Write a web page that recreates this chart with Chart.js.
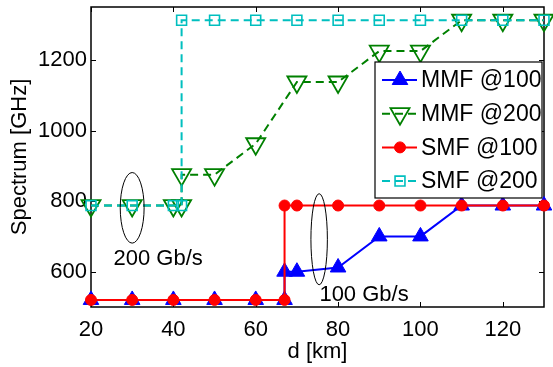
<!DOCTYPE html>
<html>
<head>
<meta charset="utf-8">
<script src="https://cdn.jsdelivr.net/npm/chart.js@4.4.1/dist/chart.umd.min.js"></script>
<style>
    html, body { margin: 0; padding: 0; background: #fff; }
    #wrap { width: 553px; height: 367px; }
</style>
</head>
<body>
<div id="wrap"><canvas id="chart" width="553" height="367"></canvas></div>
<script>
// distances [km] and spectrum [GHz]
const mmf100X = [20, 30, 40, 50, 60, 67, 67, 70, 80, 90, 100, 110, 120, 130];
const mmf100Y = [520, 520, 520, 520, 520, 520, 600, 600, 612, 700, 700, 787.5, 787.5, 787.5];

const mmf200X = [20, 30, 40, 42, 42, 50, 60, 70, 80, 90, 100, 110, 120, 130];
const mmf200Y = [787.5, 787.5, 787.5, 787.5, 875, 875, 962.5, 1137.5, 1137.5, 1225, 1225, 1312.5, 1312.5, 1312.5];

const smf100X = [20, 30, 40, 50, 60, 67, 67, 70, 80, 90, 100, 110, 120, 130];
const smf100Y = [520, 520, 520, 520, 520, 520, 787.5, 787.5, 787.5, 787.5, 787.5, 787.5, 787.5, 787.5];

const smf200X = [20, 30, 40, 42, 42, 50, 60, 70, 80, 90, 100, 110, 120, 130];
const smf200Y = [787.5, 787.5, 787.5, 787.5, 1312.5, 1312.5, 1312.5, 1312.5, 1312.5, 1312.5, 1312.5, 1312.5, 1312.5, 1312.5];

const seriesNames = ["MMF @100", "MMF @200", "SMF @100", "SMF @200"];

// callouts: [center x, center y, half width (km), half height (GHz)]
const ellipse200 = [30, 781, 2.9, 100];
const ellipse100 = [75.4, 692, 2.0, 129];
const label200 = ["200 Gb/s", 36.3, 637];
const label100 = ["100 Gb/s", 86.3, 535];

const FONT = "'Liberation Sans', Arial, Helvetica, sans-serif";

const toPoints = (xs, ys) => xs.map((x, i) => ({x, y: ys[i]}));

const datasets = [
    {
        label: seriesNames[0],
        data: toPoints(mmf100X, mmf100Y),
        borderColor: "#0000ff",
        backgroundColor: "#0000ff",
        borderWidth: 2,
        pointStyle: "triangle",
        pointRadius: 9,
        pointBorderWidth: 1,
        order: 4
    },
    {
        label: seriesNames[1],
        data: toPoints(mmf200X, mmf200Y),
        borderColor: "#008000",
        backgroundColor: "rgba(0,0,0,0)",
        borderWidth: 2,
        borderDash: [8, 5],
        pointStyle: "triangle",
        pointRotation: 180,
        pointRadius: 11,
        pointBorderWidth: 1.8,
        order: 3
    },
    {
        label: seriesNames[2],
        data: toPoints(smf100X, smf100Y),
        borderColor: "#ff0000",
        backgroundColor: "#ff0000",
        borderWidth: 2,
        pointStyle: "circle",
        pointRadius: 5.5,
        pointBorderWidth: 1,
        order: 2
    },
    {
        label: seriesNames[3],
        data: toPoints(smf200X, smf200Y),
        borderColor: "#00bfbf",
        backgroundColor: "rgba(0,0,0,0)",
        borderWidth: 2,
        borderDash: [8, 5],
        pointStyle: "rect",
        pointRadius: 7,
        pointBorderWidth: 1.6,
        order: 1
    }
].map(d => ({...d, showLine: true, tension: 0, clip: false, pointHoverRadius: d.pointRadius}));

const frame = {
    id: "frame",
    beforeDatasetsDraw(chart) {
        const {ctx, chartArea: a, scales: {x, y}} = chart;
        ctx.save();
        ctx.strokeStyle = "#000";
        ctx.lineWidth = 1.5;
        ctx.strokeRect(a.left, a.top, a.right - a.left, a.bottom - a.top);
        ctx.lineWidth = 1;
        ctx.beginPath();
        x.ticks.forEach(t => {
            const px = Math.round(x.getPixelForValue(t.value)) + 0.5;
            ctx.moveTo(px, a.bottom); ctx.lineTo(px, a.bottom - 5);
            ctx.moveTo(px, a.top); ctx.lineTo(px, a.top + 5);
        });
        y.ticks.forEach(t => {
            const py = Math.round(y.getPixelForValue(t.value)) + 0.5;
            ctx.moveTo(a.left, py); ctx.lineTo(a.left + 5, py);
            ctx.moveTo(a.right, py); ctx.lineTo(a.right - 5, py);
        });
        ctx.stroke();
        ctx.restore();
    }
};

const callouts = {
    id: "callouts",
    afterDatasetsDraw(chart) {
        const {ctx, scales: {x, y}} = chart;
        ctx.save();
        ctx.strokeStyle = "#000";
        ctx.lineWidth = 1;
        [ellipse200, ellipse100].forEach(([cx, cy, rx, ry]) => {
            const px = x.getPixelForValue(cx), py = y.getPixelForValue(cy);
            const w = Math.abs(x.getPixelForValue(cx + rx) - px);
            const h = Math.abs(y.getPixelForValue(cy + ry) - py);
            ctx.beginPath();
            ctx.ellipse(px, py, w, h, 0, 0, Math.PI * 2);
            ctx.stroke();
        });
        ctx.fillStyle = "#000";
        ctx.font = "22px " + FONT;
        ctx.textAlign = "center";
        ctx.textBaseline = "middle";
        [label200, label100].forEach(([txt, lx, ly]) => {
            ctx.fillText(txt, x.getPixelForValue(lx), y.getPixelForValue(ly));
        });

        // legend box, top right inside the axes
        const a = chart.chartArea;
        const box = {left: a.right - 169, top: a.top + 55, w: 167, h: 136};
        ctx.fillStyle = "#fff";
        ctx.fillRect(box.left, box.top, box.w, box.h);
        ctx.lineWidth = 1.2;
        ctx.strokeRect(box.left, box.top, box.w, box.h);
        ctx.textAlign = "left";
        ctx.font = "23px " + FONT;
        chart.data.datasets.forEach((d, i) => {
            const ry = box.top + 18 + i * 33.7;
            ctx.save();
            ctx.strokeStyle = d.borderColor;
            ctx.lineWidth = d.borderWidth;
            ctx.setLineDash(d.borderDash || []);
            ctx.beginPath();
            ctx.moveTo(box.left + 7, ry);
            ctx.lineTo(box.left + 42, ry);
            ctx.stroke();
            ctx.setLineDash([]);
            ctx.fillStyle = d.backgroundColor;
            ctx.lineWidth = d.pointBorderWidth;
            Chart.helpers.drawPoint(ctx, {
                pointStyle: d.pointStyle,
                rotation: d.pointRotation || 0,
                radius: d.pointRadius,
                borderWidth: d.pointBorderWidth
            }, box.left + 25, ry);
            ctx.restore();
            ctx.fillStyle = "#000";
            ctx.fillText(d.label, box.left + 46, ry + 1);
        });
        ctx.restore();
    }
};

const tickFont = {family: FONT, size: 22};

new Chart(document.getElementById("chart"), {
    type: "scatter",
    data: {datasets},
    options: {
        responsive: false,
        animation: false,
        devicePixelRatio: 1,
        layout: {autoPadding: false, padding: {left: 0, right: 9, top: 7, bottom: 0}},
        plugins: {legend: {display: false}, tooltip: {enabled: false}},
        scales: {
            x: {
                type: "linear",
                min: 20,
                max: 130,
                grid: {display: false, drawTicks: false},
                border: {display: false},
                ticks: {stepSize: 20, includeBounds: false, padding: 10, color: "#000", font: tickFont,
                    callback: v => String(v)},
                title: {display: true, text: "d [km]", color: "#000", font: tickFont, padding: {top: 0, bottom: 2}},
                afterFit: s => {
                    s.height = 60;
                    s.paddingLeft = 0;
                    s.paddingRight = 0;
                }
            },
            y: {
                type: "linear",
                min: 500,
                max: 1350,
                grid: {display: false, drawTicks: false},
                border: {display: false},
                ticks: {stepSize: 200, includeBounds: false, padding: 4, color: "#000", font: tickFont,
                    callback: v => String(v)},
                title: {display: true, text: "Spectrum [GHz]", color: "#000", font: tickFont, padding: {top: 7, bottom: 0}},
                afterFit: s => {
                    s.width = 91;
                    s.paddingTop = 0;
                    s.paddingBottom = 0;
                }
            }
        }
    },
    plugins: [frame, callouts]
});
</script>
</body>
</html>
